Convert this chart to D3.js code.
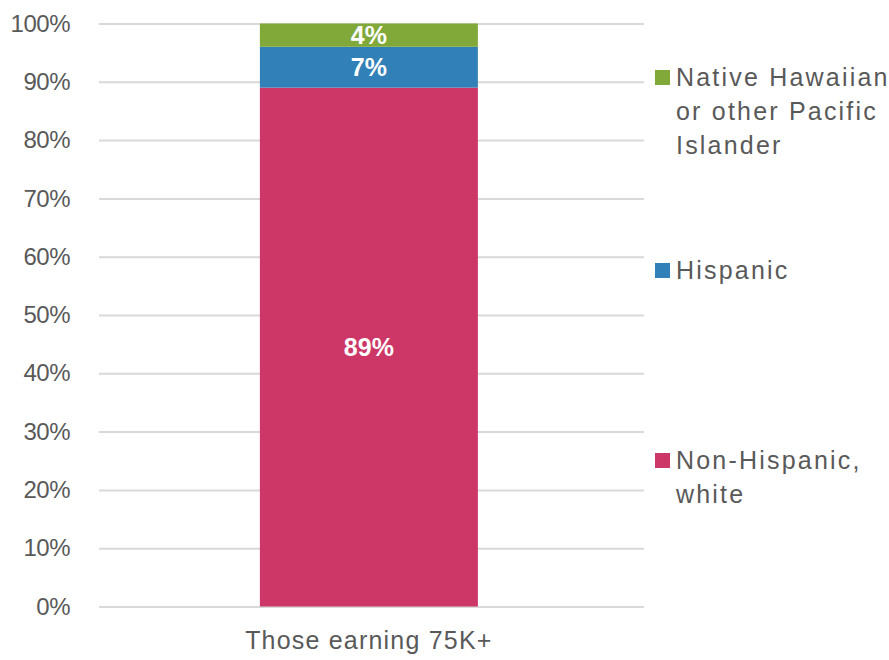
<!DOCTYPE html>
<html>
<head>
<meta charset="utf-8">
<script src="https://cdn.jsdelivr.net/npm/d3@7"></script>
<style>
  html, body { margin: 0; padding: 0; background: #fff; }
  svg { display: block; }
  text { font-family: "Liberation Sans", Arial, sans-serif; }
</style>
</head>
<body>
<svg id="chart" width="889" height="660"></svg>
<script>
// Share of earners above 75K by group (percent)
const categories = ["Those earning 75K+"];
const seriesNames = ["Non-Hispanic, white", "Hispanic", "Native Hawaiian or other Pacific Islander"];
const seriesValues = [[89], [7], [4]];
const seriesColors = ["#cc3767", "#3180b7", "#80a93a"];
const legendLines = [["Non-Hispanic,", "white"], ["Hispanic"], ["Native Hawaiian", "or other Pacific", "Islander"]];
const yTicks = [0, 10, 20, 30, 40, 50, 60, 70, 80, 90, 100];

const svg = d3.select("#chart");
const margin = { left: 99, right: 245, top: 23, bottom: 53 };
const W = 889, H = 660;

const x = d3.scaleBand()
  .domain(categories)
  .range([margin.left, W - margin.right])
  .paddingInner(0.6)
  .paddingOuter(0.3)
  .align(0.492);

const y = d3.scaleLinear()
  .domain([0, 100])
  .range([H - margin.bottom - 0.5, margin.top + 0.5]);

// gridlines
const yAxis = d3.axisLeft(y)
  .tickValues(yTicks)
  .tickSize(-(W - margin.right - margin.left))
  .tickFormat(d => d + "%")
  .tickPadding(29);

const gy = svg.append("g")
  .attr("transform", `translate(${margin.left},0)`)
  .call(yAxis);
gy.select(".domain").remove();
gy.selectAll(".tick line").attr("stroke", "#d9d9d9").attr("stroke-width", 2);
gy.selectAll(".tick text")
  .attr("fill", "#595959")
  .attr("font-size", 24)
  .attr("letter-spacing", "-0.5");

// stacked bars
const rows = categories.map((c, i) => {
  const r = { category: c };
  seriesNames.forEach((s, j) => r[s] = seriesValues[j][i]);
  return r;
});
const stacked = d3.stack().keys(seriesNames)(rows);

const layers = svg.append("g").selectAll("g")
  .data(stacked)
  .join("g")
  .attr("fill", (d, i) => seriesColors[i]);

layers.selectAll("rect")
  .data(d => d)
  .join("rect")
  .attr("x", d => x(d.data.category))
  .attr("width", x.bandwidth())
  .attr("y", d => y(d[1]))
  .attr("height", d => y(d[0]) - y(d[1]));

// value labels
layers.selectAll("text")
  .data(d => d)
  .join("text")
  .attr("x", d => x(d.data.category) + x.bandwidth() / 2)
  .attr("y", d => (y(d[0]) + y(d[1])) / 2)
  .attr("dy", "0.36em")
  .attr("text-anchor", "middle")
  .attr("fill", "#ffffff")
  .attr("font-weight", "bold")
  .attr("font-size", 25)
  .text(d => Math.round(d[1] - d[0]) + "%");

// category axis label
svg.append("g").selectAll("text")
  .data(categories)
  .join("text")
  .attr("x", d => x(d) + x.bandwidth() / 2)
  .attr("y", 649)
  .attr("text-anchor", "middle")
  .attr("fill", "#595959")
  .attr("font-size", 25)
  .attr("letter-spacing", "1.2")
  .text(d => d);

// legend
const legendX = 655;
const legendCenters = [477, 270, 111];
const lineH = 34;
const legend = svg.append("g").selectAll("g")
  .data(seriesNames)
  .join("g")
  .attr("transform", (d, i) => {
    const n = legendLines[i].length;
    const top = legendCenters[i] - (n - 1) * lineH / 2;
    return `translate(${legendX},${top})`;
  });

legend.append("rect")
  .attr("x", 0)
  .attr("y", -7)
  .attr("width", 15)
  .attr("height", 15)
  .attr("fill", (d, i) => seriesColors[i]);

legend.each(function(d, i) {
  const t = d3.select(this).append("text")
    .attr("x", 21)
    .attr("y", 0)
    .attr("fill", "#595959")
    .attr("font-size", 25)
    .attr("letter-spacing", "2.2");
  legendLines[i].forEach((line, k) => {
    t.append("tspan")
      .attr("x", 21)
      .attr("y", k * lineH)
      .attr("dy", "0.36em")
      .text(line);
  });
});
</script>
</body>
</html>
